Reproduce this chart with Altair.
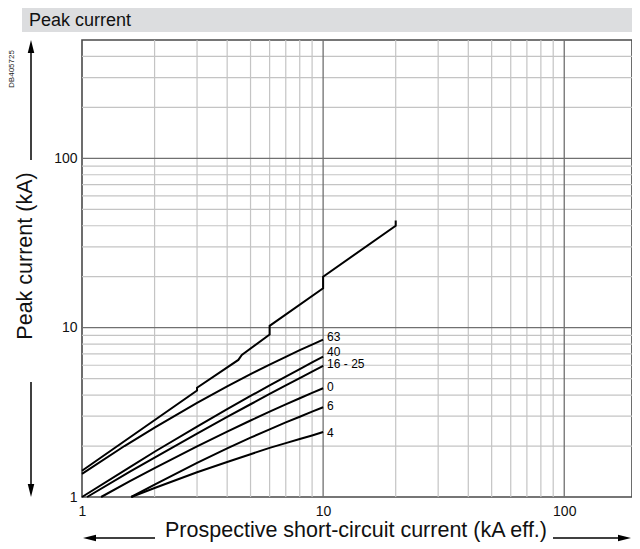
import altair as alt
import pandas as pd

# ---- data ----
top_x = [1, 3, 3, 4.45, 4.6, 6, 6, 10, 10, 20, 20]
top_y = [1.43, 4.25, 4.42, 6.45, 6.9, 9.1, 10.25, 17.1, 20.0, 40.0, 43.0]

c63_x = [1, 1.5, 2, 3, 4, 5, 6, 7, 8, 9, 10]
c63_y = [1.37, 2.0, 2.57, 3.6, 4.5, 5.31, 6.05, 6.73, 7.36, 7.94, 8.5]

c40_x = [1, 1.58, 2, 3, 4, 5, 6, 7, 8, 9, 10]
c40_y = [1.0, 1.5, 1.85, 2.6, 3.3, 3.95, 4.56, 5.14, 5.69, 6.23, 6.75]

c16_x = [1.05, 1.58, 2, 3, 4, 5, 6, 7, 8, 9, 10]
c16_y = [1.0, 1.41, 1.71, 2.37, 2.97, 3.53, 4.06, 4.56, 5.04, 5.5, 5.94]

c0_x = [1.2, 1.58, 2, 3, 4, 5, 6, 7, 8, 9, 10]
c0_y = [1.0, 1.24, 1.48, 1.99, 2.43, 2.83, 3.19, 3.52, 3.83, 4.12, 4.39]

c6_x = [1.6, 2, 3, 4, 5, 6, 7, 8, 9, 10]
c6_y = [1.0, 1.185, 1.59, 1.935, 2.24, 2.51, 2.76, 2.98, 3.19, 3.39]

c4_x = [1.6, 2, 3, 4, 5, 6, 7, 8, 9, 10]
c4_y = [1.0, 1.13, 1.4, 1.61, 1.79, 1.95, 2.08, 2.2, 2.31, 2.42]

label_text = ["63", "40", "16 - 25", "0", "6", "4"]
label_y = [8.75, 7.2, 6.08, 4.49, 3.47, 2.40]
label_x = [10, 10, 10, 10, 10, 10]

x_minor = [2, 3, 4, 5, 6, 7, 8, 9, 20, 30, 40, 50, 60, 70, 80, 90]
x_major = [10, 100]
y_minor = [2, 3, 4, 5, 6, 7, 8, 9, 20, 30, 40, 50, 60, 70, 80, 90, 200, 300, 400]
y_major = [10, 100]
axis_ticks = [1, 10, 100]

# ---- tables ----
series = [("top", top_x, top_y), ("63", c63_x, c63_y), ("40", c40_x, c40_y),
          ("16-25", c16_x, c16_y), ("0", c0_x, c0_y), ("6", c6_x, c6_y), ("4", c4_x, c4_y)]
rows = []
for name, xs_, ys_ in series:
    for i, (xv, yv) in enumerate(zip(xs_, ys_)):
        rows.append({"s": name, "i": i, "x": xv, "y": yv})
curves = pd.DataFrame(rows)
labels = pd.DataFrame({"x": label_x, "y": label_y, "t": label_text})
dummy = pd.DataFrame({"a": [0]})

xs = alt.Scale(type="log", domain=[1, 191], nice=False)
ys = alt.Scale(type="log", domain=[1, 500], nice=False)
FONT = "Liberation Sans"

xaxis = alt.Axis(values=axis_ticks, grid=False, ticks=False, domain=False, title=None,
                 labelFontSize=14, labelPadding=7, labelFlush=False, labelColor="#111",
                 labelFont=FONT, labelExpr="datum.value")
yaxis = alt.Axis(values=axis_ticks, grid=False, ticks=False, domain=False, title=None,
                 labelFontSize=14, labelPadding=5, labelFlush=False, labelColor="#111",
                 labelFont=FONT, labelExpr="datum.value")

gx_minor = alt.Chart(pd.DataFrame({"v": x_minor})).mark_rule(color="#c4c4c4", strokeWidth=1.2).encode(
    x=alt.X("v:Q", scale=xs, axis=xaxis))
gx_major = alt.Chart(pd.DataFrame({"v": x_major})).mark_rule(color="#707070", strokeWidth=1.3).encode(
    x=alt.X("v:Q", scale=xs))
gy_minor = alt.Chart(pd.DataFrame({"v": y_minor})).mark_rule(color="#c4c4c4", strokeWidth=1.2).encode(
    y=alt.Y("v:Q", scale=ys, axis=yaxis))
gy_major = alt.Chart(pd.DataFrame({"v": y_major})).mark_rule(color="#707070", strokeWidth=1.3).encode(
    y=alt.Y("v:Q", scale=ys))

lines = alt.Chart(curves).mark_line(color="black", strokeWidth=2, strokeJoin="miter").encode(
    x=alt.X("x:Q", scale=xs),
    y=alt.Y("y:Q", scale=ys),
    detail="s:N",
    order="i:Q",
)

lab = alt.Chart(labels).mark_text(align="left", baseline="middle", dx=4, fontSize=12,
                                  font=FONT, color="black").encode(
    x=alt.X("x:Q", scale=xs), y=alt.Y("y:Q", scale=ys), text="t:N")

# ---- decorations (pixel positions relative to plot origin) ----
bar = alt.Chart(dummy).mark_rect(color="#dcdddf").encode(
    x=alt.value(-60), x2=alt.value(560), y=alt.value(-32), y2=alt.value(-8))
title = alt.Chart(dummy).mark_text(text="Peak current", align="left", baseline="alphabetic",
                                   fontSize=18, font=FONT, color="#111").encode(
    x=alt.value(-53), y=alt.value(-14))
code = alt.Chart(dummy).mark_text(text="DB405725", angle=270, align="center", baseline="middle",
                                  fontSize=8, font=FONT, color="#222").encode(
    x=alt.value(-70), y=alt.value(29))
ytitle = alt.Chart(dummy).mark_text(text="Peak current (kA)", angle=270, align="center",
                                    baseline="middle", fontSize=21.5, font=FONT, color="#111").encode(
    x=alt.value(-56), y=alt.value(216))
xtitle = alt.Chart(dummy).mark_text(text="Prospective short-circuit current (kA eff.)", align="center",
                                    baseline="alphabetic", fontSize=21.5, font=FONT, color="#111").encode(
    x=alt.value(274), y=alt.value(497))

def arrow_line(x1, x2, y1, y2):
    return alt.Chart(dummy).mark_rule(color="black", strokeWidth=1.5).encode(
        x=alt.value(x1), x2=alt.value(x2), y=alt.value(y1), y2=alt.value(y2))

def head(path, xv, yv):
    return alt.Chart(dummy).mark_point(shape=path, filled=True, size=169, color="black",
                                       opacity=1, strokeWidth=0).encode(
        x=alt.value(xv), y=alt.value(yv))

arrows = [
    arrow_line(6, 73, 498, 498), head("M-1,0L1,-0.5L1,0.5Z", 7.5, 498),
    arrow_line(471, 543, 498, 498), head("M1,0L-1,-0.5L-1,0.5Z", 542.5, 498),
    arrow_line(-51, -51, 8, 120), head("M0,-1L-0.5,1L0.5,1Z", -51, 6.5),
    arrow_line(-51, -51, 342, 450), head("M0,1L-0.5,-1L0.5,-1Z", -51, 450.5),
]

chart = alt.layer(
    bar, gx_minor, gy_minor, gx_major, gy_major, lines, lab, title, code, ytitle, xtitle, *arrows
).properties(
    width=550, height=457,
    padding={"left": 74, "top": 32, "right": 0, "bottom": 50},
    autosize=alt.AutoSizeParams(type="none"),
).configure_view(stroke="#4a4a4a", strokeWidth=1.6)

chart.save("out.html", embed_options={"renderer": "svg", "actions": False})
